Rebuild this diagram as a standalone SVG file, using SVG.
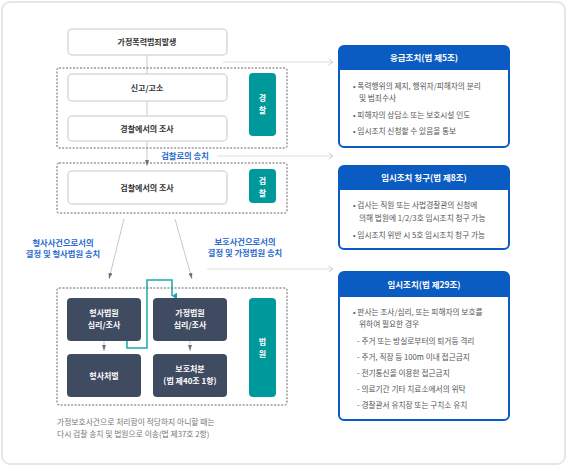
<svg xmlns="http://www.w3.org/2000/svg" width="569" height="468" viewBox="0 0 569 468">
<defs>
<style>
text{font-family:"Noto Sans CJK KR","Noto Sans",sans-serif;}
.wbox{fill:#fff;stroke:#d9d9d9;stroke-width:1.5;}
.dk{fill:#3f4b60;}
.teal{fill:#00999b;}
.dash{fill:none;stroke:#555;stroke-width:0.9;stroke-dasharray:2,1.5;}
.nt{font-size:8px;font-weight:700;fill:#333;text-anchor:middle;}
.wt{font-size:8px;font-weight:700;fill:#fff;text-anchor:middle;}
.lbl{font-size:8.3px;font-weight:700;fill:#2a6bcc;text-anchor:middle;}
.ln{stroke:#c9c9c9;stroke-width:1;fill:none;}
.lnl{stroke:#dedede;stroke-width:1;fill:none;}
.rb{fill:#fff;stroke:#0b5cc2;stroke-width:2;}
.rh{fill:#0b5cc2;}
.rt{font-size:8.5px;font-weight:700;fill:#fff;text-anchor:middle;}
.bt{font-size:7.7px;fill:#555;}
.note{font-size:7.8px;fill:#777;}
</style>
<marker id="tri" viewBox="0 0 6 4" refX="6" refY="2" markerWidth="6" markerHeight="4" orient="auto" markerUnits="userSpaceOnUse">
<path d="M0,0 L6,2 L0,4 Z" fill="#6d7380"/>
</marker>
<marker id="chev" viewBox="0 0 6 8" refX="5.5" refY="4" markerWidth="6" markerHeight="8" orient="auto" markerUnits="userSpaceOnUse">
<path d="M1,1 L5.5,4 L1,7" fill="none" stroke="#cfcfcf" stroke-width="1"/>
</marker>
<marker id="tl" viewBox="0 0 7 5" refX="3.5" refY="5" markerWidth="7" markerHeight="5" orient="auto" markerUnits="userSpaceOnUse">
<path d="M0,0 L7,0 L3.5,5 Z" fill="#1aa9aa"/>
</marker>
</defs>

<rect x="2" y="2" width="563" height="462" rx="8" fill="#fff" stroke="#e6e6e6" stroke-width="2"/>

<g id="connectors">
<line class="ln" x1="147" y1="55" x2="147" y2="74"/>
<line class="ln" x1="147" y1="101" x2="147" y2="116"/>
<line class="ln" x1="147" y1="141" x2="147" y2="166" marker-end="url(#tri)"/>
<line class="lnl" x1="223" y1="62" x2="333" y2="62" marker-end="url(#chev)"/>
<line class="lnl" x1="217" y1="156" x2="333" y2="156" marker-end="url(#chev)"/>
<line class="lnl" x1="207" y1="269" x2="333" y2="269" marker-end="url(#chev)"/>
<line class="ln" x1="124" y1="219" x2="109" y2="279" marker-end="url(#tri)"/>
<line class="ln" x1="175" y1="219" x2="192" y2="279" marker-end="url(#tri)"/>
<line class="ln" x1="104" y1="341" x2="104" y2="351" marker-end="url(#tri)"/>
<line class="ln" x1="190" y1="341" x2="190" y2="351" marker-end="url(#tri)"/>
<polyline points="127,341 127,348 147,348 147,280 172,280 172,296" fill="none" stroke="#1aa9aa" stroke-width="1.5" marker-end="url(#tl)"/>
</g>

<g id="label-prosecution">
<text class="lbl" x="185" y="159">검찰로의 송치</text>
</g>
<g id="label-criminal">
<text class="lbl" x="63" y="246">형사사건으로서의</text>
<text class="lbl" x="63" y="257">결정 및 형사법원 송치</text>
</g>
<g id="label-protect">
<text class="lbl" x="245" y="245">보호사건으로서의</text>
<text class="lbl" x="245" y="256">결정 및 가정법원 송치</text>
</g>

<g id="group-police"><rect class="dash" x="57" y="68" width="230" height="80" rx="2"/></g>
<g id="group-prosecutor"><rect class="dash" x="57" y="163" width="230" height="50" rx="2"/></g>
<g id="group-court"><rect class="dash" x="57" y="288" width="230" height="117" rx="2"/></g>

<g id="n-occur"><rect class="wbox" x="68" y="29" width="159" height="26" rx="4"/><text class="nt" x="147" y="45">가정폭력범죄발생</text></g>
<g id="n-report"><rect class="wbox" x="68" y="74" width="159" height="27" rx="4"/><text class="nt" x="147" y="90.5">신고/고소</text></g>
<g id="n-police-inv"><rect class="wbox" x="68" y="116" width="159" height="25" rx="4"/><text class="nt" x="147" y="131.5">경찰에서의 조사</text></g>
<g id="n-police"><rect class="teal" x="249" y="73" width="27" height="63" rx="4"/><text class="wt" x="262.5" y="101">경</text><text class="wt" x="262.5" y="113">찰</text></g>

<g id="n-pros-inv"><rect class="wbox" x="68" y="171" width="159" height="33" rx="4"/><text class="nt" x="147" y="190.5">검찰에서의 조사</text></g>
<g id="n-pros"><rect class="teal" x="249" y="169" width="27" height="34" rx="4"/><text class="wt" x="262.5" y="184">검</text><text class="wt" x="262.5" y="196">찰</text></g>

<g id="n-crim-court"><rect class="dk" x="67" y="298" width="74" height="43" rx="4"/><text class="wt" x="104" y="316">형사법원</text><text class="wt" x="104" y="328">심리/조사</text></g>
<g id="n-fam-court"><rect class="dk" x="153" y="298" width="74" height="43" rx="4"/><text class="wt" x="190" y="316">가정법원</text><text class="wt" x="190" y="328">심리/조사</text></g>
<g id="n-punish"><rect class="dk" x="67" y="354" width="74" height="43" rx="4"/><text class="wt" x="104" y="378.5">형사처벌</text></g>
<g id="n-protect"><rect class="dk" x="153" y="354" width="74" height="43" rx="4"/><text class="wt" x="190" y="372">보호처분</text><text class="wt" x="190" y="384">(법 제40조 1항)</text></g>
<g id="n-court"><rect class="teal" x="249" y="298" width="27" height="99" rx="4"/><text class="wt" x="262.5" y="345">법</text><text class="wt" x="262.5" y="357">원</text></g>

<g id="note">
<text class="note" x="57" y="425">가정보호사건으로 처리함이 적당하지 아니할 때는</text>
<text class="note" x="57" y="437">다시 검찰 송치 및 법원으로 이송(법 제37호 2항)</text>
</g>

<g id="r-emergency">
<rect class="rb" x="339" y="46" width="170" height="101" rx="5"/>
<path class="rh" d="M339,70 V51 a5,5 0 0 1 5,-5 H504 a5,5 0 0 1 5,5 V70 Z"/>
<text class="rt" x="424" y="61">응급조치(법 제5조)</text>
<text class="bt" x="353" y="89">• 폭력행위의 제지, 행위자/피해자의 분리</text>
<text class="bt" x="359" y="101">및 범죄수사</text>
<text class="bt" x="353" y="118">• 피해자의 상담소 또는 보호시설 인도</text>
<text class="bt" x="353" y="134">• 임시조치 신청할 수 있음을 통보</text>
</g>

<g id="r-request">
<rect class="rb" x="339" y="166" width="170" height="83" rx="5"/>
<path class="rh" d="M339,190 V171 a5,5 0 0 1 5,-5 H504 a5,5 0 0 1 5,5 V190 Z"/>
<text class="rt" x="424" y="181">임시조치 청구(법 제8조)</text>
<text class="bt" x="353" y="208">• 검사는 직원 또는 사법경찰관의 신청에</text>
<text class="bt" x="359" y="221">의해 법원에 1/2/3호 임시조치 청구 가능</text>
<text class="bt" x="353" y="238">• 임시조치 위반 시 5호 임시조치 청구 가능</text>
</g>

<g id="r-temp">
<rect class="rb" x="339" y="272" width="170" height="148" rx="5"/>
<path class="rh" d="M339,297 V277 a5,5 0 0 1 5,-5 H504 a5,5 0 0 1 5,5 V297 Z"/>
<text class="rt" x="424" y="288">임시조치(법 제29조)</text>
<text class="bt" x="353" y="315">• 판사는 조사/심리, 또는 피해자의 보호를</text>
<text class="bt" x="359" y="327">위하여 필요한 경우</text>
<text class="bt" x="357" y="344">- 주거 또는 방실로부터의 퇴거등 격리</text>
<text class="bt" x="357" y="360">- 주거, 직장 등 100m 이내 접근금지</text>
<text class="bt" x="357" y="376">- 전기통신을 이용한 접근금지</text>
<text class="bt" x="357" y="392">- 의료기간 기타 치료소에서의 위탁</text>
<text class="bt" x="357" y="408">- 경찰관서 유치장 또는 구치소 유치</text>
</g>
</svg>
